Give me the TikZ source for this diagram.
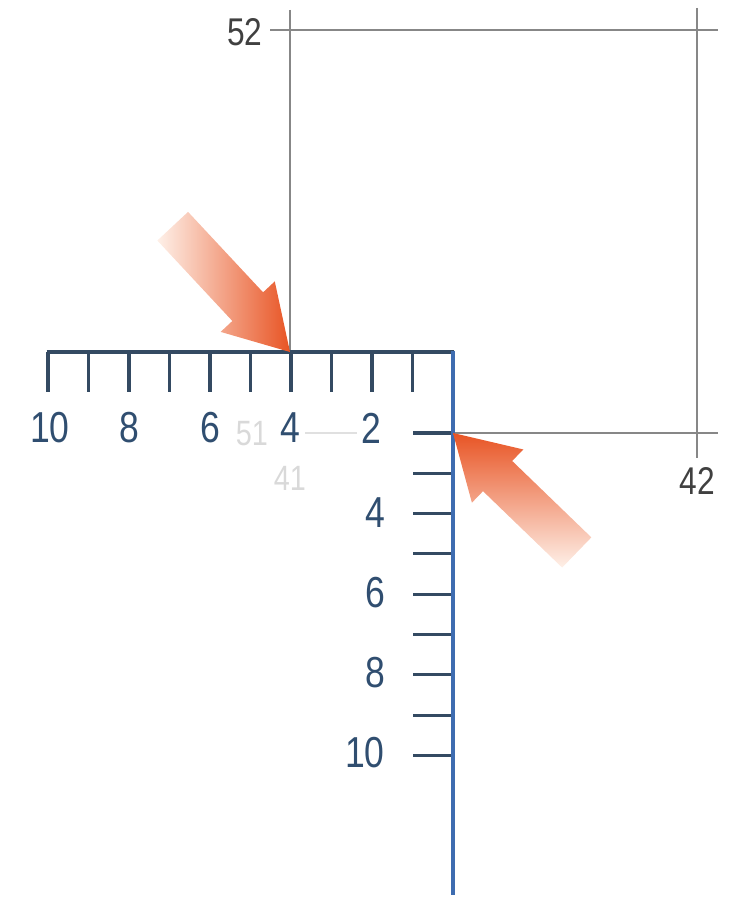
\documentclass[tikz,border=0pt]{standalone}
\usepackage{fontspec}
\setmainfont{Liberation Sans}
\definecolor{rulerdark}{RGB}{52,74,98}
\definecolor{rulerblue}{RGB}{62,108,176}
\definecolor{labelblue}{RGB}{48,78,112}
\definecolor{gridgray}{RGB}{135,135,135}
\definecolor{arrowhead}{RGB}{232,84,36}
\definecolor{arrowmid}{RGB}{242,140,100}
\definecolor{arrowtail}{RGB}{254,240,232}
\newcommand{\rl}[1]{\scalebox{0.82}[1]{#1}}
\tikzset{
  gridline/.style={draw=gridgray,line width=1.8pt},
  tickline/.style={draw=rulerdark,line width=2.6pt},
  rulernum/.style={text=labelblue,font=\fontsize{37}{40}\selectfont,inner sep=0pt},
  gridnum/.style={text=black!75,font=\fontsize{33}{36}\selectfont,inner sep=0pt},
  ghostnum/.style={text=black!15,font=\fontsize{30}{34}\selectfont,inner sep=0pt},
  bigarrow/.style={left color=arrowtail,middle color=arrowmid,right color=arrowhead,draw=none}
}
\begin{document}
\begin{tikzpicture}[x=0.03cm,y=-0.03cm]
\useasboundingbox (0,0) rectangle (729,900);

% grey square
\draw[gridline] (290,10) -- (290,352);
\draw[gridline] (270,30) -- (718,30);
\draw[gridline] (697,8) -- (697,458);
\draw[gridline] (453,433) -- (718,433);
\draw[draw=black!12,line width=1.5pt] (305,433) -- (357,433);

\node[gridnum] (n52) at (245,32) {\rl{52}};
\node[gridnum] (n42) at (697,481) {\rl{42}};
\node[ghostnum] (n51) at (252,434) {\rl{51}};
\node[ghostnum] (n41) at (290,478) {\rl{41}};

% ruler
\foreach \k in {0,...,9}
  \draw[tickline] ({48+40.5*\k},352) -- ({48+40.5*\k},392);
\draw[tickline] (46.5,352) -- (454,352);
\foreach \k in {0,...,8}
  \draw[tickline] (413,{433+40.3*\k}) -- (453,{433+40.3*\k});
\draw[draw=rulerblue,line width=2.8pt] (453,350.7) -- (453,895);

\foreach \v/\x in {10/50,8/129,6/210,4/290,2/371}
  \node[rulernum] (h\v) at (\x,428) {\rl{\v}};
\foreach \v/\y in {4/513,6/593,8/673,10/753}
  \node[rulernum,anchor=east] (v\v) at (385,\y) {\rl{\v}};

% arrows
\begin{scope}[shift={(290,352)},rotate=-47]
\shade[bigarrow] (-172,-21) -- (-62,-21) -- (-62,-37) -- (0,0)
  -- (-62,37) -- (-62,21) -- (-172,21) -- cycle;
\end{scope}
\begin{scope}[shift={(453,433)},rotate=136]
\shade[bigarrow,shading angle=180] (-172,-21) -- (-62,-21) -- (-62,-37) -- (0,0)
  -- (-62,37) -- (-62,21) -- (-172,21) -- cycle;
\end{scope}
\end{tikzpicture}
\end{document}
